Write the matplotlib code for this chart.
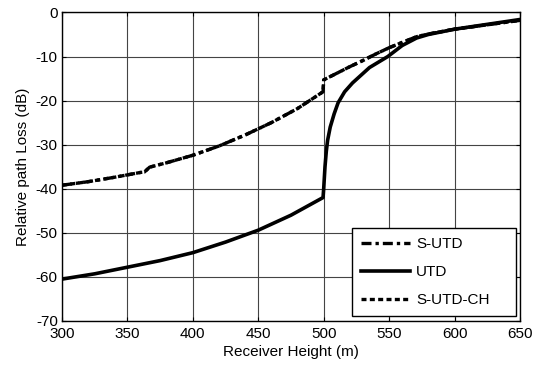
import numpy as np
import matplotlib.pyplot as plt

# Receiver height (m) and relative path loss (dB)
h_sutd = [300, 320, 340, 360, 363, 367, 380, 400, 420, 440, 460, 480, 499.5,
          500, 510, 520, 530, 540, 550, 560, 571, 580, 600, 625, 650]
sutd   = [-39.2, -38.4, -37.4, -36.3, -36.2, -35.1, -34.1, -32.4, -30.3, -27.8,
          -25.0, -21.8, -18.0,
          -15.3, -13.8, -12.3, -10.9, -9.4, -8.0, -6.8, -5.5, -4.9, -3.8, -2.8, -1.8]

h_utd = [300, 325, 350, 375, 400, 425, 450, 475, 499.5,
         500, 501, 502, 503, 505, 508, 511, 516, 522, 535, 549, 560, 571, 580,
         600, 625, 650]
utd   = [-60.5, -59.3, -57.8, -56.3, -54.5, -52.1, -49.4, -46.0, -42.0,
         -40.0, -35.0, -31.5, -29.0, -26.0, -23.0, -20.5, -18.0, -16.0, -12.5,
         -10.0, -7.5, -5.8, -5.0, -3.8, -2.7, -1.6]

h_ch = h_sutd
sutd_ch = sutd

plt.rcParams['font.family'] = ['Liberation Sans', 'DejaVu Sans']
plt.rcParams['font.size'] = 11
plt.rcParams['axes.unicode_minus'] = False

fig = plt.figure(figsize=(5.38, 3.66), dpi=100)
ax = fig.add_axes([0.1152, 0.123, 0.8513, 0.843])

ax.plot(h_sutd, sutd, color='k', lw=2.4, ls=(0, (3, 1.2, 1, 1.2)), label='S-UTD')
ax.plot(h_utd, utd, color='k', lw=2.6, ls='-', label='UTD')
ax.plot(h_ch, sutd_ch, color='k', lw=2.4, ls=(0, (1.5, 1.0)), label='S-UTD-CH')

ax.set_xlim(300, 650)
ax.set_ylim(-70, 0)
ax.set_xticks(np.arange(300, 651, 50))
ax.set_yticks(np.arange(-70, 1, 10))
ax.grid(True, color='#444444', lw=0.8)
ax.tick_params(direction='in', top=True, right=True, length=3)
ax.tick_params(axis='x', pad=4)
ax.tick_params(axis='y', pad=3)
for s in ax.spines.values():
    s.set_linewidth(1.0)

ax.set_xlabel('Receiver Height (m)', labelpad=3)
ax.set_ylabel('Relative path Loss (dB)', labelpad=4)

leg = ax.legend(loc='lower left', bbox_to_anchor=(0.633, 0.016, 0.358, 0.28),
                mode='expand', fancybox=False, edgecolor='k', framealpha=1,
                handlelength=3.2, handletextpad=0.4, borderaxespad=0,
                labelspacing=0.9, borderpad=0.6, fontsize=11)
leg.get_frame().set_linewidth(1.0)

fig.savefig('out.png', dpi=100)
